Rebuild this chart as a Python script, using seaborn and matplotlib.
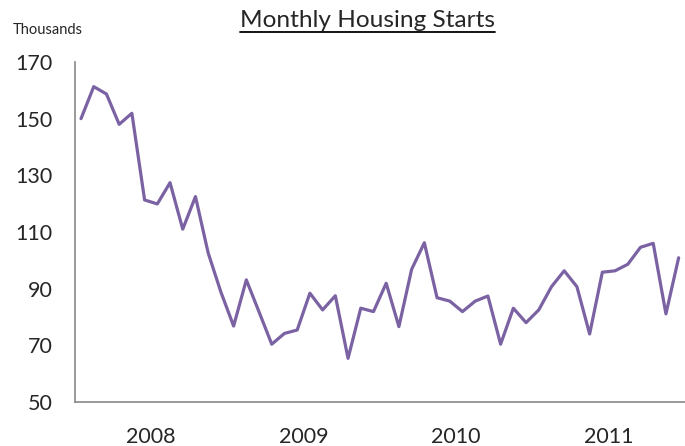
import numpy as np
import pandas as pd
import matplotlib
matplotlib.use("Agg")
import matplotlib.pyplot as plt
import seaborn as sns
from matplotlib.lines import Line2D

# monthly housing starts, thousands, Jan 2008 - Dec 2011
starts = [150, 161.3, 158.7, 148, 151.9, 121.3, 119.9, 127.4, 111, 122.5, 102.6, 88.8,
          76.8, 93.1, 81.8, 70.4, 74.2, 75.4, 88.4, 82.5, 87.5, 65.4, 83.1, 81.9,
          91.9, 76.6, 96.8, 106.2, 86.8, 85.6, 81.9, 85.6, 87.4, 70.4, 83.1, 78,
          82.5, 90.7, 96.3, 90.7, 74, 95.8, 96.3, 98.6, 104.6, 106, 81.1, 100.9]
years = ["2008", "2009", "2010", "2011"]
y_ticks = [50, 70, 90, 110, 130, 150, 170]

df = pd.DataFrame({"month": np.arange(len(starts)), "starts": starts})

sns.set_style("white")
plt.rcParams['font.family'] = ['Lato', 'DejaVu Sans']

fig = plt.figure(figsize=(6.85, 4.46), dpi=100)
ax = fig.add_axes([0.109, 0.0987, 0.891, 0.7623])

sns.lineplot(data=df, x="month", y="starts", ax=ax, color="#7b62a3", linewidth=2.3)

ax.set_xlim(-0.5, len(starts) - 0.5)
ax.set_ylim(50, 170)
ax.set_yticks(y_ticks)
ax.set_yticklabels([str(v) for v in y_ticks])

# year boundaries as major ticks, labels centred on minor ticks
ax.set_xticks([-0.5 + 12 * i for i in range(len(years) + 1)])
ax.set_xticklabels([])
ax.set_xticks([5.5 + 12 * i for i in range(len(years))], minor=True)
ax.set_xticklabels(years, minor=True)

ax.tick_params(axis="x", which="major", direction="out", length=6, width=1, color="#888888")
ax.tick_params(axis="x", which="minor", length=0, pad=18, labelsize=15.5)
ax.tick_params(axis="y", direction="out", length=5, width=1, color="#888888", pad=11, labelsize=15.5)
ax.set_xlabel("")
ax.set_ylabel("")

for s in ["top", "right"]:
    ax.spines[s].set_visible(False)
for s in ["left", "bottom"]:
    ax.spines[s].set_color("#888888")
    ax.spines[s].set_linewidth(1.2)

title = fig.text(0.537, 0.953, "Monthly Housing Starts", ha="center", va="center", fontsize=17.6)
fig.text(0.018, 0.932, "Thousands", ha="left", va="center", fontsize=10.5)

# underline the title
fig.canvas.draw()
bb = title.get_window_extent().transformed(fig.transFigure.inverted())
fig.add_artist(Line2D([bb.x0, bb.x1], [bb.y0 - 0.002, bb.y0 - 0.002], color="black", linewidth=1.3))

fig.savefig("out.png", dpi=100)
